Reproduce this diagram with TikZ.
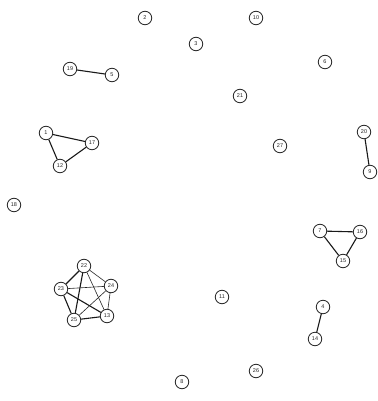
\documentclass[tikz,border=0pt]{standalone}
\usepackage{fontspec}
\setmainfont{Liberation Sans}
\begin{document}
\begin{tikzpicture}[x=1pt,y=-1pt,
  vtx/.style={circle,draw=black!85,line width=0.8pt,fill=white,minimum size=13.5pt,inner sep=0pt,font=\fontsize{5.5}{5.5}\selectfont,text=black!85},
  thin/.style={line width=0.6pt,black!85},
  thick/.style={line width=1.1pt,black!90}]
\useasboundingbox (0,0) rectangle (377,401);
\node[vtx] (n2) at (145,18) {2};
\node[vtx] (n10) at (256,18) {10};
\node[vtx] (n3) at (196,44) {3};
\node[vtx] (n6) at (325,62) {6};
\node[vtx] (n19) at (70,69) {19};
\node[vtx] (n5) at (112,75) {5};
\node[vtx] (n21) at (240,96) {21};
\node[vtx] (n1) at (46,133) {1};
\node[vtx] (n17) at (92,143) {17};
\node[vtx] (n12) at (60,166) {12};
\node[vtx] (n20) at (364,132) {20};
\node[vtx] (n27) at (280,146) {27};
\node[vtx] (n9) at (370,172) {9};
\node[vtx] (n18) at (14,205) {18};
\node[vtx] (n7) at (320,231) {7};
\node[vtx] (n16) at (360,232) {16};
\node[vtx] (n15) at (343,261) {15};
\node[vtx] (n22) at (84,266) {22};
\node[vtx] (n23) at (61,289) {23};
\node[vtx] (n24) at (111,286) {24};
\node[vtx] (n25) at (74,320) {25};
\node[vtx] (n13) at (107,316) {13};
\node[vtx] (n11) at (222,297) {11};
\node[vtx] (n4) at (323,307) {4};
\node[vtx] (n14) at (315,339) {14};
\node[vtx] (n26) at (256,371) {26};
\node[vtx] (n8) at (182,382) {8};
\draw[thick] (n19) -- (n5);
\draw[thick] (n1) -- (n17);
\draw[thick] (n1) -- (n12);
\draw[thick] (n17) -- (n12);
\draw[thick] (n20) -- (n9);
\draw[thick] (n7) -- (n16);
\draw[thick] (n7) -- (n15);
\draw[thick] (n16) -- (n15);
\draw[thick] (n4) -- (n14);
\draw[thick] (n22) -- (n23);
\draw[thin] (n22) -- (n24);
\draw[thick] (n22) -- (n25);
\draw[thin] (n22) -- (n13);
\draw[thin] (n23) -- (n24);
\draw[thick] (n23) -- (n25);
\draw[thick] (n23) -- (n13);
\draw[thin] (n24) -- (n25);
\draw[thin] (n24) -- (n13);
\draw[thick] (n25) -- (n13);
\end{tikzpicture}
\end{document}
